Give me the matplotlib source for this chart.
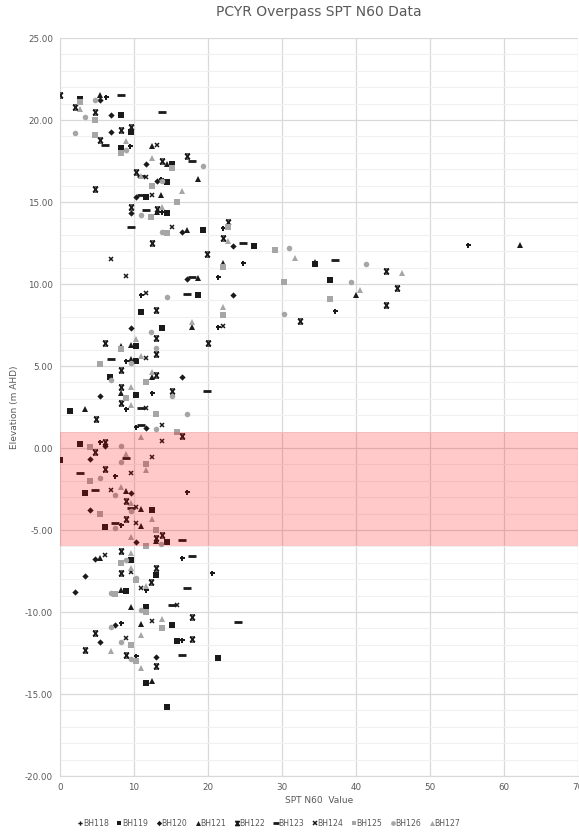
import matplotlib.pyplot as plt
from matplotlib.path import Path
from matplotlib.ticker import MultipleLocator, FormatStrFormatter

# SPT N60 value, elevation (m AHD) for each borehole
BH118_x = [6.2, 9.5, 13.7, 13.8, 21.3, 11.0, 21.3, 8.9, 12.4, 8.9, 10.3, 5.4, 7.5, 17.2, 8.2,
           16.5, 20.6, 11.6, 8.2, 16.5, 10.3, 22.0, 24.7, 37.2, 55.1]
BH118_y = [21.4, 18.4, 16.4, 14.4, 10.4, 9.35, 7.4, 5.3, 3.35, 2.35, 1.3, 0.35, -1.7, -2.7, -4.7,
           -6.7, -7.6, -8.65, -10.7, -11.7, -12.7, 13.4, 11.3, 8.35, 12.4]

BH119_x = [2.7, 8.2, 9.6, 8.2, 15.2, 14.5, 11.6, 14.4, 19.3, 18.6, 11.0, 13.8, 10.3, 10.3, 6.8,
           10.3, 1.35, 26.2, 34.4, 36.5, 2.7, 0.0, 3.4, 12.4, 6.1, 14.4, 9.6, 13.0, 8.9, 11.6,
           15.1, 15.8, 21.3, 11.6, 14.4]
BH119_y = [21.3, 20.3, 19.3, 18.3, 17.3, 16.2, 15.3, 14.3, 13.3, 9.3, 8.3, 7.3, 6.2, 5.3, 4.3,
           3.25, 2.25, 12.3, 11.2, 10.25, 0.25, -0.75, -2.75, -3.8, -4.8, -5.75, -6.8, -7.75, -8.7, -9.7,
           -10.8, -11.75, -12.8, -14.3, -15.8]

BH120_x = [5.4, 6.9, 6.9, 11.6, 13.1, 10.3, 9.6, 16.5, 17.2, 23.4, 23.4, 9.6, 16.5, 5.4, 11.6,
           6.1, 4.1, 9.6, 4.1, 10.3, 4.7, 3.4, 2.0, 7.5, 5.4, 13.0]
BH120_y = [21.2, 20.3, 19.3, 17.3, 16.3, 15.3, 14.3, 13.2, 10.3, 12.3, 9.3, 7.3, 4.35, 3.2, 1.25,
           0.1, -0.7, -2.75, -3.8, -5.75, -6.75, -7.8, -8.75, -10.8, -11.8, -12.75]

BH121_x = [5.4, 12.4, 14.4, 18.6, 13.7, 13.1, 17.1, 18.6, 22.0, 17.9, 9.6, 8.2, 9.6, 12.4, 8.2,
           3.4, 34.4, 40.0, 62.1, 8.9, 11.0, 11.0, 13.0, 5.4, 8.2, 9.6, 11.0, 12.4]
BH121_y = [21.5, 18.4, 17.3, 16.4, 15.4, 14.4, 13.3, 10.35, 11.3, 7.35, 6.3, 6.25, 5.4, 4.35, 3.35,
           2.35, 11.35, 9.35, 12.4, -2.65, -3.7, -4.75, -5.65, -6.7, -8.65, -9.7, -10.75, -14.2]

BH122_x = [0.0, 2.0, 4.7, 8.2, 9.6, 5.4, 13.8, 17.1, 10.3, 4.7, 9.6, 13.1, 12.4, 19.9, 22.7,
           22.0, 13.0, 6.1, 13.0, 13.0, 8.2, 13.0, 8.2, 8.2, 4.8, 16.5, 20.0, 15.1, 32.4, 44.1,
           45.5, 44.1, 6.1, 4.7, 6.1, 8.9, 8.9, 13.8, 13.0, 8.2, 13.0, 8.2, 12.3, 17.9, 4.7,
           17.9, 3.4, 8.9, 13.0]
BH122_y = [21.5, 20.8, 20.5, 19.4, 19.6, 18.8, 17.5, 17.8, 16.8, 15.8, 14.7, 14.6, 12.5, 11.8, 13.8,
           12.8, 8.4, 6.4, 6.7, 5.75, 4.75, 4.45, 3.75, 2.75, 1.75, 0.75, 6.4, 3.45, 7.75, 10.8,
           9.75, 8.75, 0.35, -0.25, -1.3, -3.25, -4.3, -5.3, -5.5, -6.25, -7.3, -7.65, -8.2, -10.3, -11.3,
           -11.65, -12.3, -12.6, -13.3]

BH123_x = [8.2, 13.8, 6.1, 17.9, 11.0, 11.0, 11.6, 9.6, 17.9, 17.1, 24.8, 37.2, 6.9, 19.9, 11.0,
           11.0, 8.9, 2.7, 4.7, 9.6, 7.5, 16.5, 17.9, 17.2, 15.1, 24.1, 16.5]
BH123_y = [21.5, 20.5, 18.5, 17.5, 16.6, 15.4, 14.5, 13.5, 10.4, 9.4, 12.5, 11.45, 5.4, 3.45, 2.45,
           1.4, -0.6, -1.55, -2.55, -3.65, -4.6, -5.6, -6.6, -8.55, -9.55, -10.6, -12.6]

BH124_x = [13.1, 11.6, 12.4, 15.1, 6.9, 8.9, 11.6, 22.0, 11.6, 11.6, 13.8, 13.8, 12.4, 9.6, 6.9,
           10.3, 10.3, 6.1, 9.6, 11.0, 15.8, 12.4, 8.9]
BH124_y = [18.5, 16.5, 15.4, 13.45, 11.5, 10.5, 9.45, 7.45, 5.5, 2.45, 1.4, 0.4, -0.55, -1.55, -2.55,
           -3.6, -4.6, -6.5, -7.55, -8.55, -9.55, -10.55, -11.6]

BH125_x = [2.7, 4.7, 4.7, 8.2, 15.1, 12.4, 15.8, 12.3, 14.4, 22.7, 29.0, 30.3, 36.5, 22.0, 22.0,
           8.2, 5.4, 11.6, 8.9, 13.0, 15.8, 4.1, 11.6, 4.1, 5.4, 13.0, 11.6, 8.2, 10.3, 7.5,
           11.6, 13.8, 9.6, 10.3]
BH125_y = [21.1, 20.0, 19.1, 18.0, 17.1, 16.0, 15.0, 14.1, 13.1, 13.5, 12.1, 10.1, 9.1, 8.1, 11.05,
           6.05, 5.1, 4.0, 3.05, 2.05, 1.0, 0.05, -0.95, -2.0, -4.0, -5.0, -5.95, -7.0, -8.05, -8.9,
           -10.0, -11.0, -12.0, -13.0]

BH126_x = [4.7, 3.4, 2.0, 8.9, 19.3, 13.8, 11.0, 13.8, 31.0, 41.4, 39.3, 30.3, 14.4, 12.3, 13.0,
           9.6, 6.9, 15.1, 17.1, 13.0, 8.2, 8.2, 5.4, 7.5, 9.6, 7.5, 13.7, 8.9, 10.3, 6.9,
           11.0, 6.9, 8.2, 9.6]
BH126_y = [21.2, 20.2, 19.2, 18.2, 17.2, 16.3, 14.2, 13.2, 12.2, 11.2, 10.15, 8.15, 9.2, 7.1, 6.1,
           5.2, 4.15, 3.15, 2.1, 1.15, 0.15, -0.85, -1.85, -2.85, -3.85, -4.9, -5.85, -6.85, -7.9, -8.85,
           -9.9, -10.9, -11.85, -12.85]

BH127_x = [2.7, 8.9, 12.4, 16.5, 11.0, 13.8, 22.7, 31.7, 40.6, 46.2, 22.0, 17.9, 10.3, 11.0, 12.4,
           9.6, 9.6, 11.0, 8.9, 11.6, 8.2, 9.6, 12.4, 9.6, 9.6, 9.6, 11.6, 13.8, 11.0, 6.9,
           11.0]
BH127_y = [20.7, 18.7, 17.7, 15.7, 16.6, 14.7, 12.6, 11.6, 9.65, 10.65, 8.6, 7.7, 6.65, 5.6, 4.65,
           3.7, 2.6, 0.65, -0.35, -1.35, -2.35, -3.35, -4.35, -5.4, -6.4, -7.3, -8.4, -10.4, -11.4, -12.4,
           -13.4]

black = "#1a1a1a"
grey = "#a6a6a6"
text_grey = "#595959"

# Excel-style "star" marker: an x closed with bars top and bottom
star = Path([(-1, -1), (1, 1), (-1, 1), (1, -1), (-1, 1), (1, 1), (-1, -1), (1, -1)],
            [Path.MOVETO, Path.LINETO, Path.MOVETO, Path.LINETO,
             Path.MOVETO, Path.LINETO, Path.MOVETO, Path.LINETO])

series = [
    ("BH118", BH118_x, BH118_y, dict(marker="P", ms=3.6, color=black, mew=0)),
    ("BH119", BH119_x, BH119_y, dict(marker="s", ms=3.8, color=black, mew=0)),
    ("BH120", BH120_x, BH120_y, dict(marker="D", ms=3.2, color=black, mew=0)),
    ("BH121", BH121_x, BH121_y, dict(marker="^", ms=4.2, color=black, mew=0)),
    ("BH122", BH122_x, BH122_y, dict(marker=star, ms=3.6, color=black, mew=1.0, mfc="none")),
    ("BH123", BH123_x, BH123_y, dict(marker="_", ms=5.5, color=black, mew=2.0)),
    ("BH124", BH124_x, BH124_y, dict(marker="x", ms=3.4, color=black, mew=1.1)),
    ("BH125", BH125_x, BH125_y, dict(marker="s", ms=3.8, color=grey, mew=0)),
    ("BH126", BH126_x, BH126_y, dict(marker="o", ms=4.0, color=grey, mew=0)),
    ("BH127", BH127_x, BH127_y, dict(marker="^", ms=4.2, color=grey, mew=0)),
]

fig = plt.figure(figsize=(5.79, 8.32), dpi=100)
ax = fig.add_axes([0.1036, 0.0673, 0.8946, 0.887])

for name, xs, ys, style in series:
    ax.plot(xs, ys, linestyle="none", label=name, zorder=3, **style)

# highlighted elevation band
ax.axhspan(-6, 1, xmin=0, xmax=1, color="red", alpha=0.21, lw=0, zorder=5)

ax.set_xlim(0, 70)
ax.set_ylim(-20, 25)
ax.xaxis.set_major_locator(MultipleLocator(10))
ax.yaxis.set_major_locator(MultipleLocator(5))
ax.yaxis.set_minor_locator(MultipleLocator(1))
ax.yaxis.set_major_formatter(FormatStrFormatter("%.2f"))

ax.grid(True, which="major", color="#d9d9d9", lw=0.9, zorder=0)
ax.grid(True, which="minor", axis="y", color="#f0f0f0", lw=0.8, zorder=0)
ax.set_axisbelow(True)
for side in ["top", "right"]:
    ax.spines[side].set_visible(False)
for side in ["left", "bottom"]:
    ax.spines[side].set_color("#d9d9d9")
ax.tick_params(which="both", length=0, colors=text_grey, labelsize=6.3, pad=5)

ax.set_title("PCYR Overpass SPT N60 Data", color=text_grey, fontsize=10, pad=16)
ax.set_xlabel("SPT N60  Value", color=text_grey, fontsize=6.5, labelpad=3)
ax.set_ylabel("Elevation (m AHD)", color=text_grey, fontsize=6.5, labelpad=4)

fig.legend(loc="center", bbox_to_anchor=(0.465, 1 - 823 / 832), ncol=10, frameon=False,
           fontsize=5.6, labelcolor=text_grey, handlelength=0.5, handletextpad=0.1,
           columnspacing=1.1, markerscale=0.85)

fig.savefig("out.png", dpi=100)
